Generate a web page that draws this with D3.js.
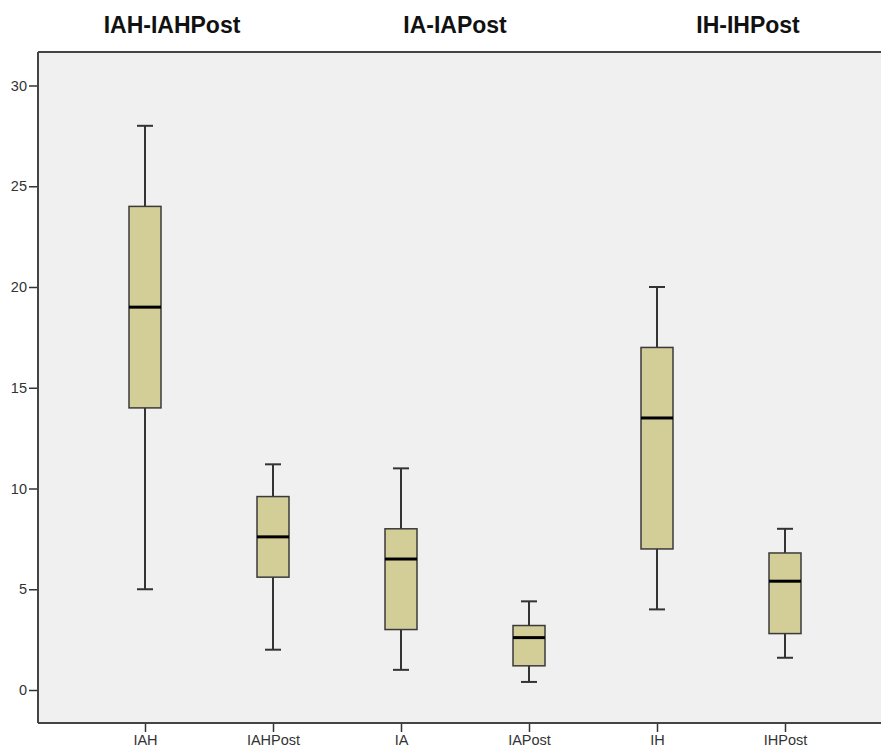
<!DOCTYPE html>
<html>
<head>
<meta charset="utf-8">
<script src="https://cdn.jsdelivr.net/npm/d3@7"></script>
<style>
  html, body { margin: 0; padding: 0; background: #fff; }
  svg { display: block; font-family: "Liberation Sans", Arial, sans-serif; }
</style>
</head>
<body>
<svg id="chart" width="881" height="753"></svg>
<script>
// Box-plot categories and five-number summaries
const categories = ["IAH", "IAHPost", "IA", "IAPost", "IH", "IHPost"];
const minValues    = [5,   2.0,  1,   0.4, 4,    1.6];
const q1Values     = [14,  5.6,  3,   1.2, 7,    2.8];
const medianValues = [19,  7.6,  6.5, 2.6, 13.5, 5.4];
const q3Values     = [24,  9.6,  8,   3.2, 17,   6.8];
const maxValues    = [28,  11.2, 11,  4.4, 20,   8];

const yTicks = [0, 5, 10, 15, 20, 25, 30];

// Group titles above the plot
const groupTitles = ["IAH-IAHPost", "IA-IAPost", "IH-IHPost"];
const groupTitleX = [172, 455, 748];

const rows = categories.map((c, i) => ({
  name: c, min: minValues[i], q1: q1Values[i], median: medianValues[i],
  q3: q3Values[i], max: maxValues[i]
}));

const svg = d3.select("#chart");
const plot = { left: 38, right: 881, top: 52, bottom: 723 };

const y = d3.scaleLinear().domain([0, 30]).range([690, 85.5]);
const x = d3.scalePoint().domain(categories)
  .range([145, 785]);

// Plot background
svg.append("rect")
  .attr("x", plot.left).attr("y", plot.top)
  .attr("width", plot.right - plot.left).attr("height", plot.bottom - plot.top)
  .attr("fill", "#f0f0f0");

// Top frame line
svg.append("line")
  .attr("x1", plot.left).attr("x2", plot.right)
  .attr("y1", plot.top).attr("y2", plot.top)
  .attr("stroke", "#444").attr("stroke-width", 2);

// Y axis
const yAxis = svg.append("g")
  .attr("transform", `translate(${plot.left},0)`)
  .call(d3.axisLeft(y).tickValues(yTicks).tickSize(9).tickPadding(2));
yAxis.select(".domain").remove();
yAxis.append("line")
  .attr("x1", 0).attr("x2", 0).attr("y1", plot.top).attr("y2", plot.bottom)
  .attr("stroke", "#444").attr("stroke-width", 2);
yAxis.selectAll(".tick line").attr("stroke", "#333").attr("stroke-width", 1.5);
yAxis.selectAll(".tick text")
  .attr("font-size", 14.5).attr("fill", "#333")
  .style("font-family", "'Liberation Sans', Arial, sans-serif");

// X axis
const xAxis = svg.append("g")
  .attr("transform", `translate(0,${plot.bottom})`)
  .call(d3.axisBottom(x).tickSize(9).tickPadding(3));
xAxis.select(".domain").remove();
xAxis.append("line")
  .attr("x1", plot.left).attr("x2", plot.right).attr("y1", 0).attr("y2", 0)
  .attr("stroke", "#444").attr("stroke-width", 2);
xAxis.selectAll(".tick line").attr("stroke", "#333").attr("stroke-width", 1.5);
xAxis.selectAll(".tick text")
  .attr("font-size", 14.5).attr("fill", "#333")
  .style("font-family", "'Liberation Sans', Arial, sans-serif");

// Boxes
const boxW = 32, capW = 16;
const g = svg.append("g").selectAll("g").data(rows).join("g")
  .attr("transform", d => `translate(${x(d.name)},0)`);

g.append("line") // whisker
  .attr("x1", 0).attr("x2", 0)
  .attr("y1", d => y(d.min)).attr("y2", d => y(d.max))
  .attr("stroke", "#333").attr("stroke-width", 2);
g.append("line") // top cap
  .attr("x1", -capW / 2).attr("x2", capW / 2)
  .attr("y1", d => y(d.max)).attr("y2", d => y(d.max))
  .attr("stroke", "#333").attr("stroke-width", 2);
g.append("line") // bottom cap
  .attr("x1", -capW / 2).attr("x2", capW / 2)
  .attr("y1", d => y(d.min)).attr("y2", d => y(d.min))
  .attr("stroke", "#333").attr("stroke-width", 2);
g.append("rect")
  .attr("x", -boxW / 2).attr("width", boxW)
  .attr("y", d => y(d.q3)).attr("height", d => y(d.q1) - y(d.q3))
  .attr("fill", "#d3ce98").attr("stroke", "#3a3a3a").attr("stroke-width", 1.5);
g.append("line") // median
  .attr("x1", -boxW / 2).attr("x2", boxW / 2)
  .attr("y1", d => y(d.median)).attr("y2", d => y(d.median))
  .attr("stroke", "#000").attr("stroke-width", 3);

// Group titles
svg.append("g").selectAll("text").data(groupTitles).join("text")
  .attr("x", (d, i) => groupTitleX[i]).attr("y", 33)
  .attr("text-anchor", "middle")
  .attr("font-size", 23).attr("font-weight", "bold").attr("fill", "#111")
  .text(d => d);
</script>
</body>
</html>
